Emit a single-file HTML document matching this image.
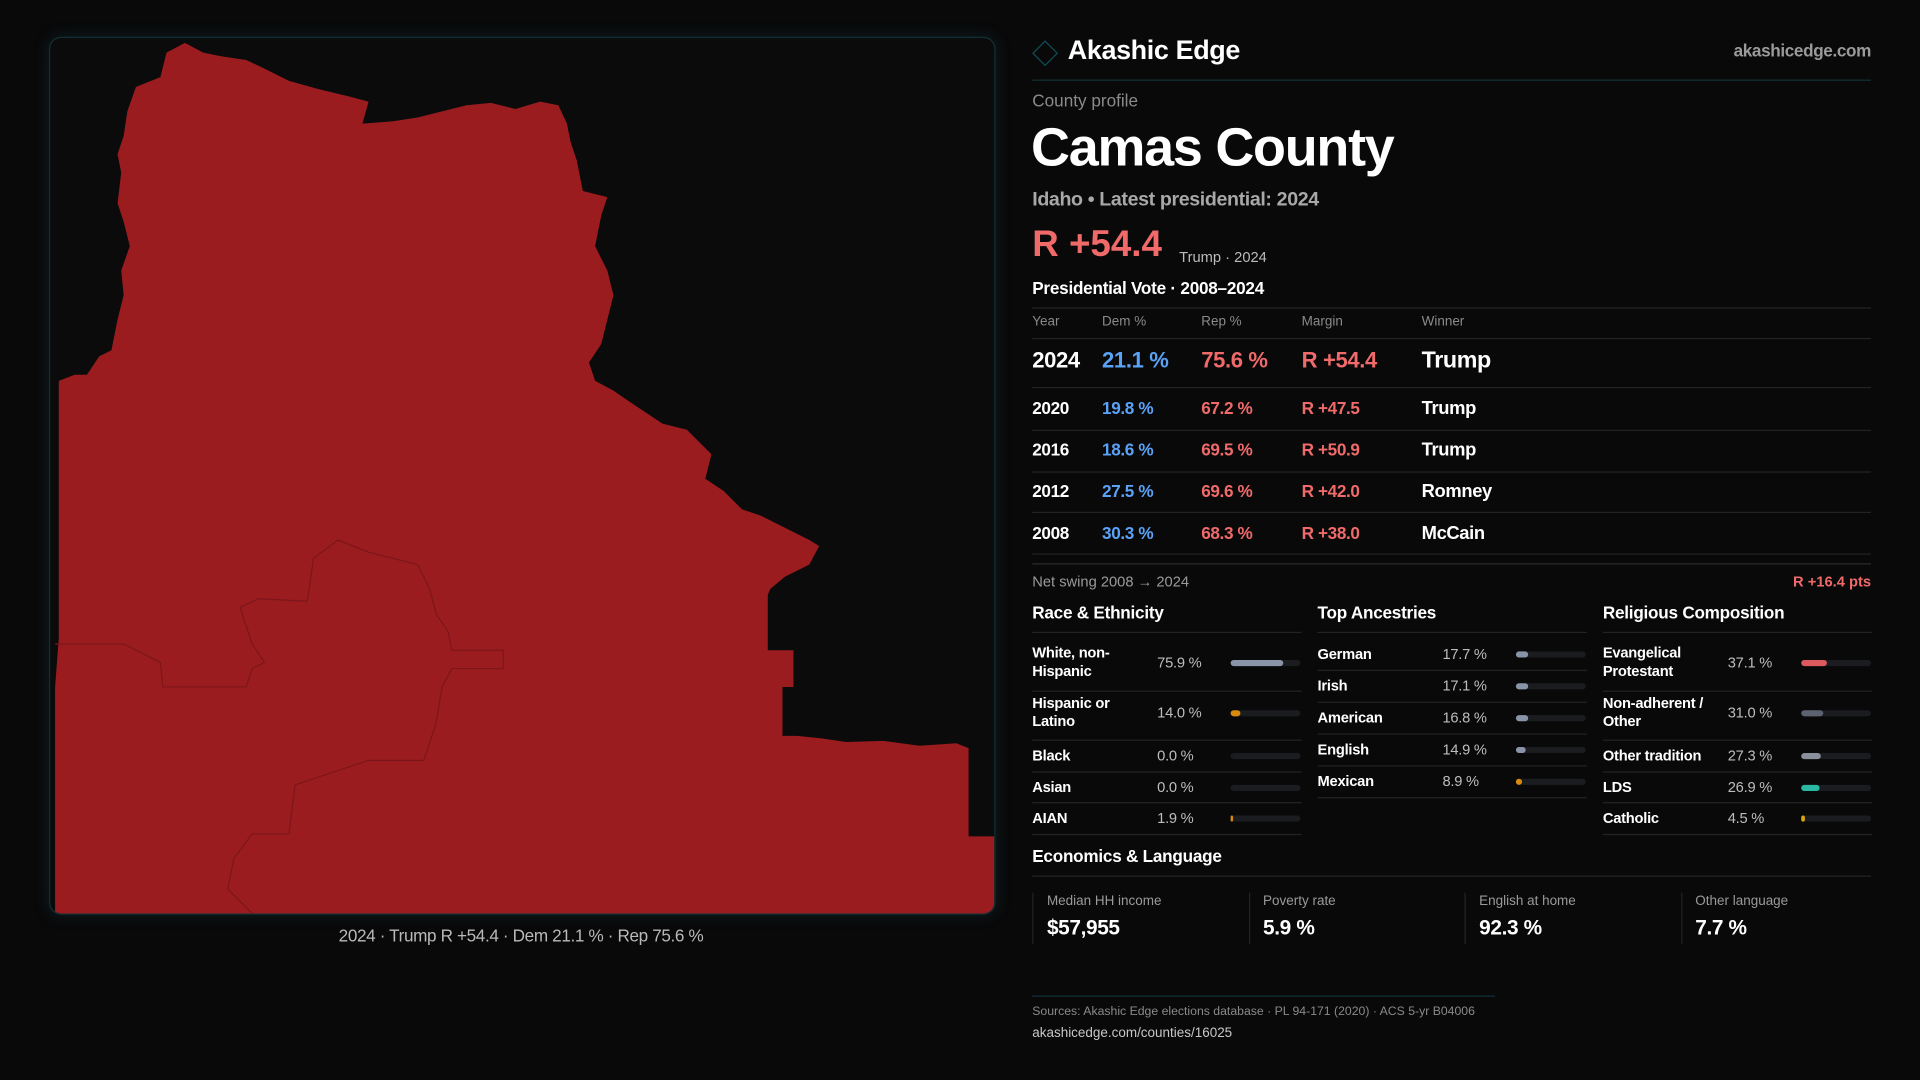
<!DOCTYPE html>
<html><head><meta charset="utf-8">
<style>
html,body{margin:0;padding:0;background:#09090a;width:1920px;height:1080px;overflow:hidden}
#root{position:absolute;left:0;top:0;width:1568px;height:882px;transform:scale(1.22449);transform-origin:0 0;font-family:"Liberation Sans",sans-serif;color:#fff}
.a{position:absolute;white-space:nowrap}
.ln{position:absolute;height:1px;background:#222326}
</style></head><body>
<div id="root">
  <div class="a" style="left:40px;top:30px;width:771px;height:715px;border:1px solid #123034;border-radius:10px;background:#0b0b0c;overflow:hidden;box-shadow:0 0 12px rgba(30,90,100,0.25)">
    <svg width="771" height="715" viewBox="40 30 771 715">
      <polygon fill="#9b1c1f" points="135,42 150,34 165,42 180,45 200,48 215,55 235,65 260,72 285,78 300,82 295,100 320,98 340,95 360,90 380,85 400,83 420,88 440,82 455,85 462,100 465,115 470,130 475,155 495,160 490,175 485,200 495,220 500,240 495,260 490,280 480,295 485,310 500,318 510,325 525,335 540,345 560,350 570,360 580,370 575,390 590,400 605,415 620,420 640,430 660,440 668,445 660,460 640,470 628,480 626,485 626,530 647,530 647,560 638,560 638,600 650,600 670,602 690,605 720,604 750,608 780,606 790,610 790,682 812,682 812,746 44,746 44,560 47,520 47,310 60,305 70,305 80,290 90,285 95,260 100,240 98,220 105,200 100,180 95,165 98,140 95,125 100,110 103,90 110,70 115,68 130,62"/>
      <polyline fill="none" stroke="#7c1619" stroke-width="1" points="44,525 100,525 130,540 132,560 200,560 205,545 215,540 205,525 195,495 210,488 250,490 255,455 275,440 300,450 340,460 350,480 355,500 365,515 368,530 410,530 410,545 368,545 360,560 355,590 345,620 300,620 240,640 235,680 205,680 190,700 185,725 205,745"/>
    </svg>
  </div>
  <div class="a" style="left:40px;width:771px;text-align:center;top:756px;font-size:14px;color:#b9b9b9;letter-spacing:-0.3px">2024 · Trump R +54.4 · Dem 21.1 % · Rep 75.6 %</div>

  <div class="a" style="left:846px;top:36px;width:13px;height:13px;border:1.5px solid #0f4f55;transform:rotate(45deg)"></div>
  <div class="a" style="left:872px;top:28px;font-size:22px;font-weight:bold;letter-spacing:-0.3px">Akashic Edge</div>
  <div class="a" style="right:40px;top:33px;font-size:14px;color:#9a9a9a;font-weight:bold;letter-spacing:-0.3px">akashicedge.com</div>
  <div class="ln" style="left:843px;top:65px;width:685px;background:#113236"></div>
  <div class="a" style="left:843px;top:74px;font-size:14px;color:#8a8a8a">County profile</div>
  <div class="a" style="left:842px;top:96px;font-size:44px;font-weight:bold;letter-spacing:-1px">Camas County</div>
  <div class="a" style="left:843px;top:155px;font-size:16px;color:#a8a8a8;font-weight:bold;letter-spacing:-0.3px">Idaho • Latest presidential: 2024</div>
  <div class="a" style="left:843px;top:183px;font-size:30px;color:#f06a6a;font-weight:bold">R +54.4</div>
  <div class="a" style="left:963px;top:203px;font-size:12px;color:#bbb">Trump · 2024</div>
  <div class="a" style="left:843px;top:227px;font-size:14px;font-weight:bold;letter-spacing:-0.2px">Presidential Vote · 2008–2024</div>

  <div class="a" style="left:843px;top:468px;font-size:12px;color:#9a9a9a">Net swing 2008 → 2024</div>
  <div class="a" style="right:40px;top:468px;font-size:12px;color:#f06a6a;font-weight:bold">R +16.4 pts</div>

  <div class="a" style="left:843px;top:691px;font-size:14px;font-weight:bold;letter-spacing:-0.2px">Economics &amp; Language</div>
  <div class="ln" style="left:843px;top:715px;width:685px"></div>

  <div class="ln" style="left:843px;top:813px;width:378px;background:#113236"></div>
  <div class="a" style="left:843px;top:821px;font-size:10px;color:#8a8a8a">Sources: Akashic Edge elections database · PL 94-171 (2020) · ACS 5-yr B04006</div>
  <div class="a" style="left:843px;top:838px;font-size:11px;color:#c8c8c8">akashicedge.com/counties/16025</div>
</div>
<script>
const years=["2024","2020","2016","2012","2008"];
const demPct=[21.1,19.8,18.6,27.5,30.3];
const repPct=[75.6,67.2,69.5,69.6,68.3];
const margins=[54.4,47.5,50.9,42.0,38.0];
const winners=["Trump","Trump","Trump","Romney","McCain"];
const raceLabels=["White, non-<br>Hispanic","Hispanic or<br>Latino","Black","Asian","AIAN"];
const raceValues=[75.9,14.0,0.0,0.0,1.9];
const ancLabels=["German","Irish","American","English","Mexican"];
const ancValues=[17.7,17.1,16.8,14.9,8.9];
const relLabels=["Evangelical<br>Protestant","Non-adherent /<br>Other","Other tradition","LDS","Catholic"];
const relValues=[37.1,31.0,27.3,26.9,4.5];
const econLabels=["Median HH income","Poverty rate","English at home","Other language"];
const econValues=["$57,955","5.9 %","92.3 %","7.7 %"];

const root=document.getElementById('root');
function add(html,style,name){const d=document.createElement('div');d.className='a';d.innerHTML=html;d.style.cssText=style;


root.appendChild(d);return d;}
function line(x,y,w,c){const d=document.createElement('div');d.className='ln';d.style.cssText='left:'+x+'px;top:'+y+'px;width:'+w+'px;'+(c?'background:'+c:'');


root.appendChild(d);}
const cols=[843,900,981,1063,1161];
line(843,251,685);
["Year","Dem %","Rep %","Margin","Winner"].forEach((h,i)=>add(h,'left:'+cols[i]+'px;top:257px;font-size:11px;color:#8a8a8a','table-header'));
line(843,276,685);
const rowY=[295,333,367,401,435];
years.forEach((y,i)=>{
  const fs=i==0?18:14, t=rowY[i]-fs*0.6, ls='letter-spacing:-0.3px;';
  add(y,'left:'+cols[0]+'px;top:'+t+'px;font-size:'+fs+'px;font-weight:bold;'+ls,'row-year');
  add(demPct[i].toFixed(1)+' %','left:'+cols[1]+'px;top:'+t+'px;font-size:'+fs+'px;font-weight:bold;color:#5aa2f5;'+ls,'row-dem');
  add(repPct[i].toFixed(1)+' %','left:'+cols[2]+'px;top:'+t+'px;font-size:'+fs+'px;font-weight:bold;color:#f06a6a;'+ls,'row-rep');
  add('R +'+margins[i].toFixed(1),'left:'+cols[3]+'px;top:'+t+'px;font-size:'+fs+'px;font-weight:bold;color:#f06a6a;'+ls,'row-margin');
  add(winners[i],'left:'+cols[4]+'px;top:'+t+'px;font-size:'+(fs+1)+'px;font-weight:bold;'+ls,'row-winner');
});
[316,351,385,418,452].forEach(y=>line(843,y,685));
line(843,460,685,'#2a2b2e');
function section(x,title,labels,vals,colors,ys,lines,valX){
  add(title,'left:'+x+'px;top:492px;font-size:14px;font-weight:bold;letter-spacing:-0.2px','section-heading');
  line(x,516,220);
  labels.forEach((l,i)=>{
    const two=l.indexOf('<br>')>=0;
    add(l,'left:'+x+'px;top:'+(ys[i]-(two?15:7))+'px;font-size:12px;font-weight:bold;line-height:15px;letter-spacing:-0.2px','bar-label');
    add(vals[i].toFixed(1)+' %','left:'+(x+valX)+'px;top:'+(ys[i]-7)+'px;font-size:12px;color:#bdbdbd;letter-spacing:-0.2px','bar-value');
    const tr=add('','left:'+(x+162)+'px;top:'+(ys[i]-2)+'px;width:57px;height:5px;border-radius:3px;background:#1b1c1f','bar-track');
    const w=Math.max(57*vals[i]/100,vals[i]>0?1.5:0);
    const f=document.createElement('div');f.style.cssText='position:absolute;left:0;top:0;height:5px;border-radius:3px;width:'+w+'px;background:'+colors[i];
    
    
    tr.appendChild(f);
  });
  lines.forEach(y=>line(x,y,220));
}
section(843,"Race &amp; Ethnicity",raceLabels,raceValues,["#8a94a8","#d98b0e","#8a94a8","#8a94a8","#d98b0e"],[541,582,617,643,668],[564,604,630,655,681],102);
section(1076,"Top Ancestries",ancLabels,ancValues,["#8a94a8","#8a94a8","#8a94a8","#8a94a8","#d98b0e"],[534,560,586,612,638],[547,573,599,625,651],102);
section(1309,"Religious Composition",relLabels,relValues,["#dc5a5e","#5c6272","#8a8f9c","#2bb8a2","#d9a514"],[541,582,617,643,668],[564,604,630,655,681],102);
econLabels.forEach((l,i)=>{
  const x=843+i*176.5;
  add('','left:'+x+'px;top:729px;width:1px;height:42px;background:#222326','card-border');
  add(l,'left:'+(x+12)+'px;top:730px;font-size:11px;color:#9a9a9a','econ-label');
  add(econValues[i],'left:'+(x+12)+'px;top:748px;font-size:17px;font-weight:bold;letter-spacing:-0.3px','econ-value');
});
</script>
</body></html>
